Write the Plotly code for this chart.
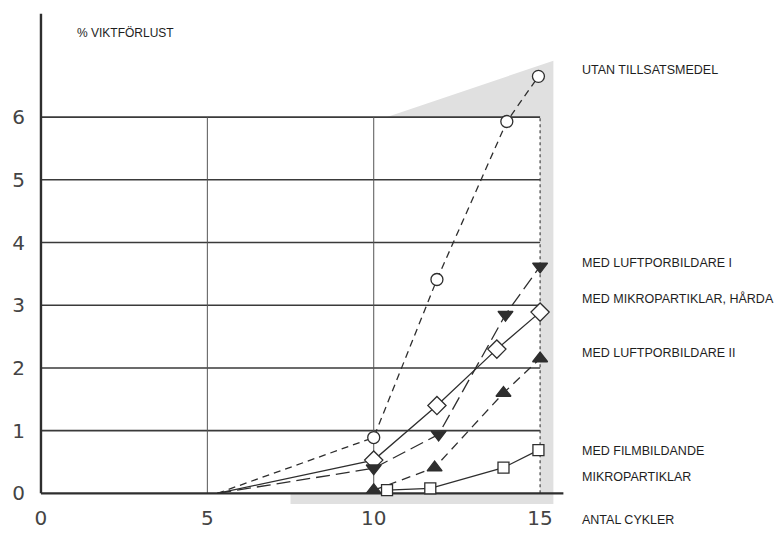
import plotly.graph_objects as go

# ---- data ----
x_ticks = [0, 5, 10, 15]
y_ticks = [0, 1, 2, 3, 4, 5, 6]

cyc_utan = [5.3, 10.0, 11.9, 14.0, 14.95]
val_utan = [0.0, 0.89, 3.41, 5.93, 6.65]

cyc_hard = [5.3, 10.0, 11.9, 13.7, 15.0]
val_hard = [0.0, 0.53, 1.40, 2.30, 2.89]

cyc_lp1 = [5.3, 10.0, 11.95, 13.96, 15.0]
val_lp1 = [0.0, 0.40, 0.94, 2.85, 3.62]

cyc_lp2 = [10.0, 11.83, 13.9, 15.0]
val_lp2 = [0.05, 0.41, 1.60, 2.15]

cyc_film = [10.4, 11.7, 13.9, 14.95]
val_film = [0.05, 0.08, 0.41, 0.69]

labels = ["UTAN TILLSATSMEDEL", "MED LUFTPORBILDARE I", "MED MIKROPARTIKLAR, HÅRDA",
          "MED LUFTPORBILDARE II", "MED FILMBILDANDE", "MIKROPARTIKLAR", "ANTAL CYKLER"]
label_px_y = [70, 263, 298, 353, 451, 477, 520]
y_title = "% VIKTFÖRLUST"

INK = "#2e2e2e"
W, H = 782, 546
OFF = 8  # page body margin offset
L, R, T, B = 18, 7, 0, 50
XR = [-0.45, 22.3]
YR = [-0.17, 7.74]

fig = go.Figure()

def add_series(xs, ys, symbol, size, fill, dash, hide_first):
    op = [0 if (hide_first and i == 0) else 1 for i in range(len(xs))]
    fig.add_trace(go.Scatter(
        x=xs, y=ys, mode="lines+markers",
        line=dict(color=INK, width=1.3, dash=dash),
        marker=dict(symbol=symbol, size=size, color=fill, opacity=op,
                    line=dict(color=INK, width=1.3)),
        cliponaxis=False, showlegend=False, hoverinfo="skip"))

add_series(cyc_hard, val_hard, "diamond", 14, "white", "solid", True)
add_series(cyc_lp1, val_lp1, "triangle-down", 13, INK, "14px,6px", True)
add_series(cyc_lp2, val_lp2, "triangle-up", 13, INK, "9px,6px", False)
add_series(cyc_film, val_film, "square", 11, "white", "solid", False)
add_series(cyc_utan, val_utan, "circle", 12, "white", "7px,5px", True)

shapes = []
# stippled shading (decoration)
shapes.append(dict(type="path", xref="x", yref="y", layer="below",
                   path="M 10.4,6 L 15.4,6.9 L 15.4,-0.17 L 7.5,-0.17 L 7.5,0 L 15,0 L 15,6 Z",
                   fillcolor="#e0e0e0", line=dict(width=0)))
# horizontal grid
for yv in y_ticks[1:]:
    shapes.append(dict(type="line", xref="x", yref="y", layer="below",
                       x0=0, x1=15, y0=yv, y1=yv, line=dict(color="#3a3a3a", width=1.6)))
# vertical grid
for xv in x_ticks[1:3]:
    shapes.append(dict(type="line", xref="x", yref="y", layer="below",
                       x0=xv, x1=xv, y0=0, y1=6, line=dict(color="#555", width=1)))
shapes.append(dict(type="line", xref="x", yref="y", layer="below",
                   x0=15, x1=15, y0=0, y1=6, line=dict(color="#444", width=1.2, dash="dot")))
# axis lines
shapes.append(dict(type="line", xref="x", yref="y", layer="below",
                   x0=0, x1=0, y0=0, y1=7.65, line=dict(color=INK, width=2.4)))
shapes.append(dict(type="line", xref="x", yref="y", layer="below",
                   x0=0, x1=15.7, y0=0, y1=0, line=dict(color=INK, width=2.4)))

ph = H - T - B
pw = W - L - R
def px2paper(px, py):
    return (px - OFF - L) / pw, (H - B - (py - OFF)) / ph

annotations = []
for txt, py in zip(labels, label_px_y):
    ax, ay = px2paper(580, py)
    annotations.append(dict(text=txt, xref="paper", yref="paper", x=ax, y=ay,
                            xanchor="left", yanchor="middle", showarrow=False,
                            font=dict(family="Liberation Sans", size=12.5, color="#1e1e1e")))
ax, ay = px2paper(75, 33)
annotations.append(dict(text=y_title, xref="paper", yref="paper", x=ax, y=ay,
                        xanchor="left", yanchor="middle", showarrow=False,
                        font=dict(family="Liberation Sans", size=12, color="#1e1e1e")))

fig.update_layout(
    width=W, height=H, margin=dict(l=L, r=R, t=T, b=B),
    paper_bgcolor="white", plot_bgcolor="white",
    shapes=shapes, annotations=annotations,
    xaxis=dict(range=XR, tickvals=x_ticks, ticktext=[str(v) for v in x_ticks],
               showgrid=False, zeroline=False, showline=False, automargin=False,
               ticks="", tickfont=dict(family="DejaVu Sans", size=20, color="#444")),
    yaxis=dict(range=YR, tickvals=y_ticks, ticktext=[str(v) for v in y_ticks],
               showgrid=False, zeroline=False, showline=False, automargin=False,
               ticks="", tickfont=dict(family="DejaVu Sans", size=20, color="#444")),
)

fig.write_html("out.html")
